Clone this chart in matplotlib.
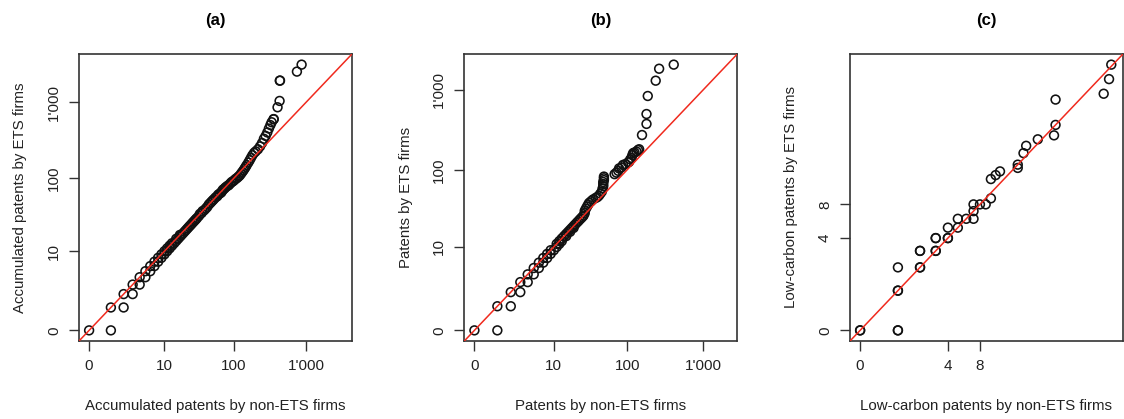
import numpy as np
import matplotlib
matplotlib.use("Agg")
import matplotlib.pyplot as plt
from matplotlib.ticker import FixedLocator, FixedFormatter

plt.rcParams['font.family'] = ['Liberation Sans', 'DejaVu Sans']

# Panel (a): sorted quantiles, accumulated patents
non_ets_a = [0, 1, 1, 2, 2, 3, 3, 4, 4, 5, 5, 6, 6, 7, 7, 8, 8, 9, 9, 10,
             10, 11, 11, 12, 12, 13, 13, 14, 15, 15, 16, 17, 17, 18, 19, 20, 21, 22, 23, 24,
             25, 26, 27, 28, 29, 30, 32, 33, 35, 36, 38, 40, 42, 44, 46, 48, 50, 52, 55, 58,
             60, 63, 66, 68, 70, 73, 76, 80, 84, 88, 92, 96, 100, 105, 110, 115, 120, 125, 130, 135,
             140, 145, 150, 158, 165, 172, 180, 190, 200, 215, 230, 245, 260, 275, 290, 305, 320, 333,
             354, 356, 402, 429, 432, 435, 746, 866]
ets_a = [0, 0, 1, 1, 2, 2, 3, 3, 4, 4, 5, 5, 6, 6, 7, 7, 8, 8, 9, 9,
         10, 10, 11, 11, 12, 12, 13, 13, 14, 15, 15, 16, 17, 17, 18, 19, 20, 21, 22, 23,
         24, 25, 26, 27, 28, 29, 31, 33, 34, 36, 37, 39, 41, 44, 46, 48, 50, 52, 55, 57,
         60, 62, 64, 67, 70, 72, 75, 78, 80, 84, 88, 90, 93, 97, 100, 104, 108, 114, 120, 126,
         133, 140, 148, 160, 172, 185, 200, 215, 225, 240, 262, 290, 330, 360, 400, 450, 500, 545,
         596, 600, 858, 1040, 1920, 1930, 2530, 3125]

# Panel (b): sorted quantiles, patents
non_ets_b = [0, 1, 1, 2, 2, 3, 3, 4, 4, 5, 5, 6, 6, 7, 7, 8, 8, 9, 9, 10,
             11, 11, 12, 12, 13, 13, 14, 15, 15, 16, 17, 17, 18, 19, 19, 20, 21, 22, 23, 24,
             25, 26, 27, 27, 28, 29, 30, 31, 33, 35, 38, 40, 42, 44, 46, 47, 48, 48, 48, 49,
             49, 49, 68, 72, 76, 78, 84, 88, 95, 103, 106, 110, 114, 117, 120, 125, 133, 139,
             144, 157, 180, 180, 187, 238, 264, 411]
ets_b = [0, 0, 1, 1, 2, 2, 3, 3, 4, 4, 5, 5, 6, 6, 7, 7, 8, 8, 9, 9,
         10, 11, 11, 12, 12, 13, 14, 14, 15, 16, 16, 17, 18, 18, 19, 20, 21, 22, 23, 24,
         25, 26, 28, 30, 32, 34, 36, 38, 40, 42, 44, 45, 47, 50, 53, 58, 62, 66, 70, 74,
         78, 82, 88, 92, 97, 104, 107, 115, 118, 124, 126, 135, 141, 153, 162, 165, 169, 177,
         181, 273, 376, 500, 840, 1305, 1840, 2070]

# Panel (c): sorted quantiles, low-carbon patents
non_ets_c = [0, 0, 1, 1, 1, 1, 1, 2, 2, 2, 2, 3, 3, 3, 3, 4, 4, 4, 5, 5,
             6, 7, 7, 7, 8, 9, 10, 10, 11, 12, 17, 17, 19, 20, 25, 34, 35, 35, 86, 95, 99]
ets_c = [0, 0, 0, 0, 1, 1, 2, 2, 2, 3, 3, 3, 3, 4, 4, 4, 4, 5, 5, 6,
         6, 6, 7, 8, 8, 8, 9, 13, 14, 15, 16, 17, 21, 24, 27, 29, 35, 55, 61, 79, 102]

titles = ['(a)', '(b)', '(c)']
xlabels = ['Accumulated patents by non-ETS firms', 'Patents by non-ETS firms',
           'Low-carbon patents by non-ETS firms']
ylabels = ['Accumulated patents by ETS firms', 'Patents by ETS firms',
           'Low-carbon patents by ETS firms']
ticks_ab = [0, 10, 100, 1000]
ticklabels_ab = ['0', '10', '100', "1'000"]
ticks_c = [0, 4, 8]
ticklabels_c = ['0', '4', '8']


def fwd(v):
    return np.log10(1 + np.asarray(v, dtype=float))


def inv(v):
    return 10 ** np.asarray(v, dtype=float) - 1


fig = plt.figure(figsize=(11.24, 4.19), dpi=100)
lefts = [79 / 1124, 464.3 / 1124, 850 / 1124]
panels = [(non_ets_a, ets_a, ticks_ab, ticklabels_ab),
          (non_ets_b, ets_b, ticks_ab, ticklabels_ab),
          (non_ets_c, ets_c, ticks_c, ticklabels_c)]

for i, (xv, yv, tk, tl) in enumerate(panels):
    ax = fig.add_axes([lefts[i], 1 - 341 / 419, 273 / 1124, 287 / 419])
    ax.set_xscale('function', functions=(fwd, inv))
    ax.set_yscale('function', functions=(fwd, inv))
    ax.scatter(xv, yv, s=40, facecolors='none', edgecolors='#111111', linewidths=1.15, zorder=2)

    # same range on both axes, R-style 4% padding
    top = max(fwd(max(xv)), fwd(max(yv)))
    lo, hi = inv(-0.04 * top), inv(1.04 * top)
    ax.set_xlim(lo, hi)
    ax.set_ylim(lo, hi)
    ax.plot([lo, hi], [lo, hi], color='#f02a1e', lw=1.1, zorder=3)

    for axis in (ax.xaxis, ax.yaxis):
        axis.set_major_locator(FixedLocator(tk))
        axis.set_major_formatter(FixedFormatter(tl))
        axis.set_minor_locator(FixedLocator([]))
    ax.tick_params(length=7, width=1, color='#333333', labelsize=11, pad=6, labelcolor='#222222')
    for lbl in ax.get_yticklabels():
        lbl.set_rotation(90)
        lbl.set_va('center')
    for s in ax.spines.values():
        s.set_linewidth(1.2)
        s.set_color('#333333')

    ax.set_xlabel(xlabels[i], fontsize=10.8, labelpad=19, color='#222222')
    ax.set_ylabel(ylabels[i], fontsize=10.8, labelpad=14, color='#222222')
    ax.set_title(titles[i], fontsize=12, fontweight='bold', pad=21)

fig.savefig('out.png', dpi=100)
